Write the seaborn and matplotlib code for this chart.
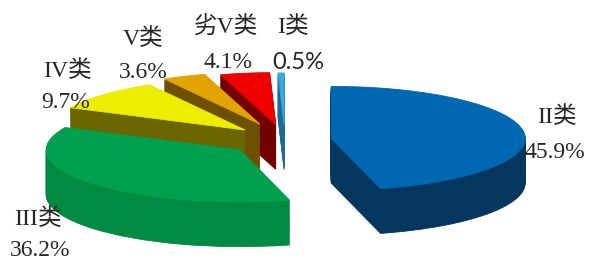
import matplotlib
matplotlib.use("Agg")
import matplotlib.pyplot as plt
import seaborn as sns

# water quality classes, clockwise from 12 o'clock
categories = ['II类', 'III类', 'IV类', 'V类', '劣V类', 'I类']
shares = [45.9, 36.2, 9.7, 3.6, 4.1, 0.5]

top_colors = ['#0068B3', '#00A04F', '#EDED00', '#E2A500', '#EE0000', '#36A9E1']
side_colors = ['#05365E', '#008A42', '#6B6600', '#6E5000', '#720000', '#1C6A96']
explode = [0.24, 0.30, 0.28, 0.33, 0.30, 0.29]
draw_rank = [4, 5, 3, 2, 1, 0]  # back to front

# label centres in pixels (name line, percent line)
name_pos = [(557, 117), (38, 219), (67, 71), (143, 39), (225, 27), (293, 27)]
pct_pos = [(555, 152), (40, 251), (66, 103), (143, 72), (228, 62), (298, 62)]

sns.set_style("white")
plt.rcParams['font.family'] = ['Liberation Serif', 'Noto Sans CJK SC']

W, H = 590, 262
fig = plt.figure(figsize=(W / 100, H / 100), dpi=100)
ax = fig.add_axes([0, 0, 1, 1])

# fake 3D: stack the same pie downwards in darker colours, top face last
depth = 0.86
n_layers = 44
for k in range(n_layers, -1, -1):
    cols = top_colors if k == 0 else side_colors
    wedges, _ = ax.pie(shares, explode=explode, colors=cols, startangle=90,
                       counterclock=False, radius=1,
                       center=(0, -depth * k / n_layers),
                       wedgeprops=dict(linewidth=0.6))
    for i, w in enumerate(wedges):
        w.set_edgecolor(w.get_facecolor())
        w.set_zorder(draw_rank[i] * 100 + (n_layers - k))

ax.set_aspect('auto')
ax.set_xlim(-1.469, 1.572)
ax.set_ylim(-2.346, 2.692)
ax.axis('off')

for i, name in enumerate(categories):
    fig.text(name_pos[i][0] / W, 1 - name_pos[i][1] / H, name,
             ha='center', va='center', fontsize=17)
    fam = ['Lato', 'DejaVu Sans'] if name == 'I类' else ['Liberation Serif', 'DejaVu Sans']
    fig.text(pct_pos[i][0] / W, 1 - pct_pos[i][1] / H, f"{shares[i]}%",
             ha='center', va='center', fontsize=17, family=fam)

fig.savefig("out.png", dpi=100, facecolor='white')
